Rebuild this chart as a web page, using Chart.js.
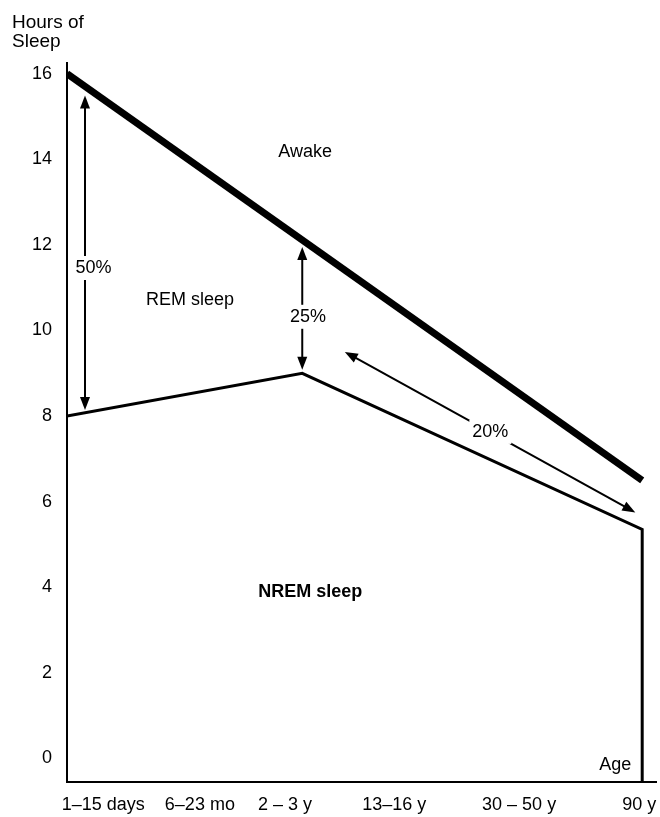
<!DOCTYPE html>
<html>
<head>
<meta charset="utf-8">
<script src="https://cdn.jsdelivr.net/npm/chart.js@4"></script>
<style>
  html, body { margin: 0; padding: 0; background: #fff; }
  canvas { display: block; }
</style>
</head>
<body>
<canvas id="c" width="660" height="817"></canvas>
<script>
// ---- data ----
const ageLabels = ['1–15 days', '6–23 mo', '2 – 3 y', '13–16 y', '30 – 50 y', '90 y'];
const ageLabelPos = [6.3, 23.1, 37.9, 56.9, 78.6, 99.5];   // where the age labels sit on the (non-uniform) age axis
const pointAge = [0, 40.9, 100];                            // 1–15 days, 2–3 y, 90 y
const totalSleep = [16, 12.1, 6.5];                         // top of REM band (thick line)
const nremSleep = [8, 9, 5.35];                             // REM / NREM boundary
const yTicks = [0, 2, 4, 6, 8, 10, 12, 14, 16];
const yMin = -0.55, yMax = 16.25;
const xMin = 0, xMax = 102.4;

// annotation text/arrows in data units
const labels = [
  { text: 'Awake', x: 41.4, y: 14.18, bold: false },
  { text: 'REM sleep', x: 21.4, y: 10.71, bold: false },
  { text: 'NREM sleep', x: 42.3, y: 3.88, bold: true },
  { text: 'Age', x: 95.3, y: -0.16, bold: false }
];
const arrows = [
  { x1: 3.13, y1: 15.49, x2: 3.13, y2: 8.14, text: '50%', tx: 4.6, ty: 11.46 },
  { x1: 40.9, y1: 11.95, x2: 40.9, y2: 9.08, text: '25%', tx: 41.9, ty: 10.32 },
  { x1: 48.3, y1: 9.5, x2: 98.8, y2: 5.75, text: '20%', tx: 73.6, ty: 7.63 }
];

const FONT = '"Liberation Sans", Arial, Helvetica, sans-serif';

function pts(xs, ys) { return xs.map((x, i) => ({ x: x, y: ys[i] })); }

const annot = {
  id: 'annot',
  afterDraw(chart) {
    const ctx = chart.ctx, sx = chart.scales.x, sy = chart.scales.y;
    const X = v => sx.getPixelForValue(v), Y = v => sy.getPixelForValue(v);
    ctx.save();
    ctx.fillStyle = '#000';
    ctx.strokeStyle = '#000';
    // axis title
    ctx.font = '19px ' + FONT;
    ctx.textAlign = 'left';
    ctx.textBaseline = 'alphabetic';
    ctx.fillText('Hours of', 12, 28);
    ctx.fillText('Sleep', 12, 47);

    // arrows
    arrows.forEach(a => {
      const x1 = X(a.x1), y1 = Y(a.y1), x2 = X(a.x2), y2 = Y(a.y2);
      const ang = Math.atan2(y2 - y1, x2 - x1);
      const hl = 13, hw = 5;
      ctx.lineWidth = 2;
      ctx.beginPath();
      ctx.moveTo(x1 + Math.cos(ang) * hl * 0.8, y1 + Math.sin(ang) * hl * 0.8);
      ctx.lineTo(x2 - Math.cos(ang) * hl * 0.8, y2 - Math.sin(ang) * hl * 0.8);
      ctx.stroke();
      const head = (tx, ty, dir) => {
        ctx.beginPath();
        ctx.moveTo(tx, ty);
        const bx = tx - Math.cos(dir) * hl, by = ty - Math.sin(dir) * hl;
        ctx.lineTo(bx + Math.cos(dir + Math.PI / 2) * hw, by + Math.sin(dir + Math.PI / 2) * hw);
        ctx.lineTo(bx - Math.cos(dir + Math.PI / 2) * hw, by - Math.sin(dir + Math.PI / 2) * hw);
        ctx.closePath();
        ctx.fill();
      };
      head(x2, y2, ang);
      head(x1, y1, ang + Math.PI);
      // label with white gap
      ctx.font = '18px ' + FONT;
      ctx.textAlign = 'center';
      ctx.textBaseline = 'middle';
      const w = ctx.measureText(a.text).width;
      const tx = X(a.tx), ty = Y(a.ty);
      ctx.fillStyle = '#fff';
      ctx.fillRect(tx - w / 2 - 3, ty - 12, w + 6, 24);
      ctx.fillStyle = '#000';
      ctx.fillText(a.text, tx, ty);
    });

    // region labels
    labels.forEach(l => {
      ctx.font = (l.bold ? 'bold ' : '') + '18px ' + FONT;
      ctx.textAlign = 'center';
      ctx.textBaseline = 'middle';
      ctx.fillText(l.text, X(l.x), Y(l.y));
    });
    ctx.restore();
  }
};

new Chart(document.getElementById('c'), {
  type: 'line',
  data: {
    datasets: [
      {
        label: 'Total sleep',
        data: pts([pointAge[0], pointAge[2]], [totalSleep[0], totalSleep[2]]),
        borderColor: '#000',
        borderWidth: 7,
        pointRadius: 0,
        tension: 0,
        fill: false,
        borderCapStyle: 'butt'
      },
      {
        label: 'NREM sleep',
        data: pts(pointAge, nremSleep).concat([{ x: pointAge[2], y: yMin }]),
        borderColor: '#000',
        borderWidth: 3,
        pointRadius: 0,
        tension: 0,
        fill: false
      }
    ]
  },
  options: {
    responsive: false,
    devicePixelRatio: 1,
    animation: false,
    events: [],
    layout: { padding: { top: 63, right: 4, bottom: 0, left: 0 } },
    plugins: { legend: { display: false }, tooltip: { enabled: false }, title: { display: false } },
    scales: {
      x: {
        type: 'linear',
        min: xMin,
        max: xMax,
        grid: { display: false, drawTicks: false },
        border: { display: true, color: '#000', width: 2 },
        afterBuildTicks: s => { s.ticks = ageLabelPos.map(v => ({ value: v })); },
        afterFit: s => { s.height = 35; s.paddingLeft = 0; s.paddingRight = 0; },
        ticks: {
          autoSkip: false,
          maxRotation: 0,
          minRotation: 0,
          padding: 12,
          color: '#000',
          font: { family: FONT, size: 18 },
          callback: (v, i) => ageLabels[i]
        }
      },
      y: {
        type: 'linear',
        min: yMin,
        max: yMax,
        grid: { display: false, drawTicks: false },
        border: { display: true, color: '#000', width: 2 },
        afterBuildTicks: s => { s.ticks = yTicks.map(v => ({ value: v })); },
        afterFit: s => { s.width = 67; s.paddingTop = 0; s.paddingBottom = 0; },
        ticks: {
          padding: 15,
          color: '#000',
          font: { family: FONT, size: 18 },
          callback: v => String(v)
        }
      }
    }
  },
  plugins: [annot]
});
</script>
</body>
</html>
